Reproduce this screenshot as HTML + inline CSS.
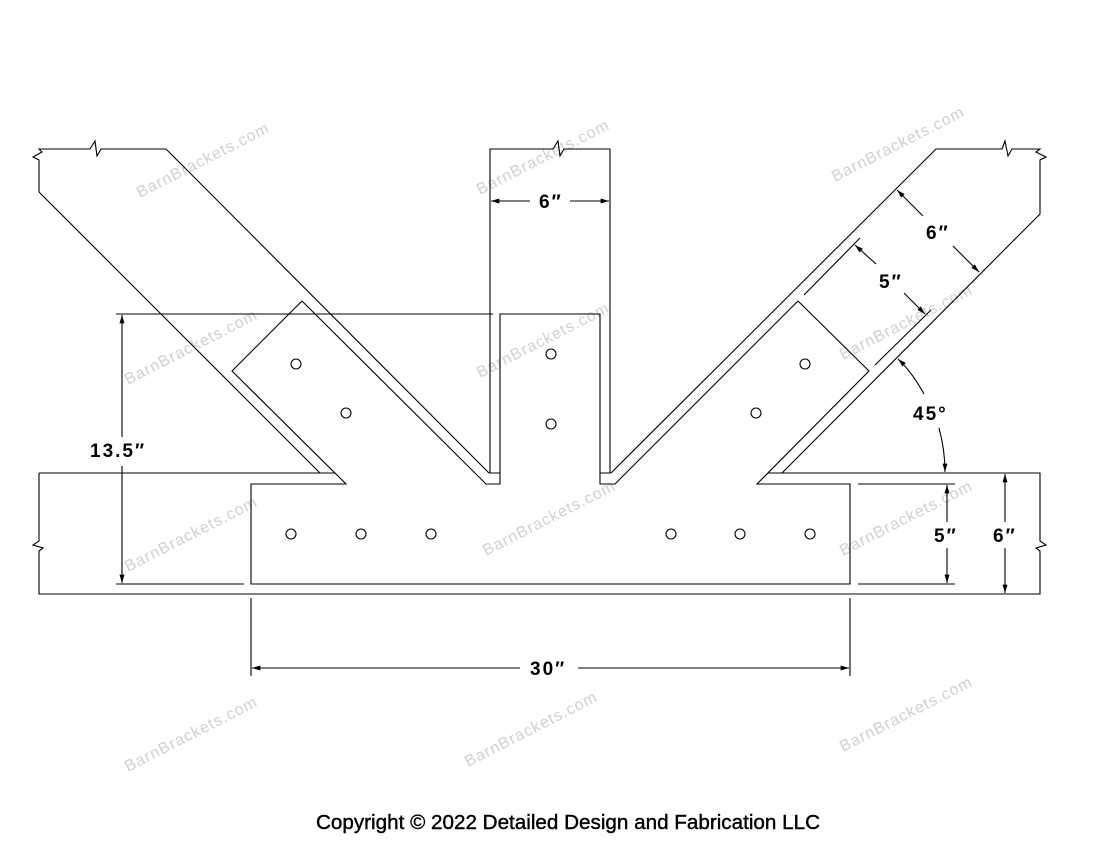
<!DOCTYPE html>
<html><head><meta charset="utf-8"><style>
html,body{margin:0;padding:0;background:#fff;}
svg{display:block;}
.t{stroke:#000;stroke-width:1.1;fill:none;}
.d{font-family:"Liberation Sans",sans-serif;font-weight:bold;font-size:19px;fill:#000;letter-spacing:2px;}
.w{font-family:"Liberation Sans",sans-serif;font-size:16px;fill:#d0d0d0;letter-spacing:1px;}
</style></head><body>
<svg width="1100" height="850" viewBox="0 0 1100 850" xmlns="http://www.w3.org/2000/svg">
<defs><marker id="a" viewBox="0 0 10 6" refX="10" refY="3" markerWidth="10" markerHeight="5" orient="auto-start-reverse" markerUnits="userSpaceOnUse"><path d="M0,0 L10,3 L0,6 z" fill="#000"/></marker></defs>
<g>
<text class="w" transform="translate(140,198) rotate(-27)">BarnBrackets.com</text>
<text class="w" transform="translate(480,195) rotate(-27)">BarnBrackets.com</text>
<text class="w" transform="translate(835,182) rotate(-27)">BarnBrackets.com</text>
<text class="w" transform="translate(128,385) rotate(-27)">BarnBrackets.com</text>
<text class="w" transform="translate(480,378) rotate(-27)">BarnBrackets.com</text>
<text class="w" transform="translate(843,360) rotate(-27)">BarnBrackets.com</text>
<text class="w" transform="translate(128,572) rotate(-27)">BarnBrackets.com</text>
<text class="w" transform="translate(486,556) rotate(-27)">BarnBrackets.com</text>
<text class="w" transform="translate(843,556) rotate(-27)">BarnBrackets.com</text>
<text class="w" transform="translate(128,772) rotate(-27)">BarnBrackets.com</text>
<text class="w" transform="translate(468,767) rotate(-27)">BarnBrackets.com</text>
<text class="w" transform="translate(843,752) rotate(-27)">BarnBrackets.com</text>
</g>
<path class="t" d="M39,192 L39,160 L33,157 L42,152 L39,149 L90,149 L95,141 L97,156 L101,149 L166,149 L489,473"/>
<path class="t" d="M39,192 L320,473"/>
<path class="t" d="M302,301 L232,371 L346,484 L251,484 L251,584 L850,584 L850,484 L757,484 L869,371 L798,301"/>
<path class="t" d="M302,301 L486,484 L500,484 L500,314 L600,314 L600,484 L615,484 L798,301"/>
<path class="t" d="M490,473 L490,149 L553,149 L558,141 L560,156 L564,149 L610,149 L610,473"/>
<path class="t" d="M489,473 L500,473 M600,473 L611,473"/>
<path class="t" d="M611,473 L936,149 L1002,149 L1005,141 L1008,156 L1012,149 L1040,149 L1036,152 L1046,157 L1040,160 L1040,214 L782,473"/>
<path class="t" d="M39,473 L335,473 M768,473 L1040,473 L1040,541 L1046,545 L1036,548 L1040,551 L1040,594 L39,594 L39,551 L43,548 L33,545 L39,541 L39,473"/>
<path class="t" d="M116,314 L493,314 M116,584 L244,584"/>
<line class="t" x1="122" y1="437" x2="122" y2="315" marker-end="url(#a)"/>
<line class="t" x1="122" y1="466" x2="122" y2="583" marker-end="url(#a)"/>
<text class="d" x="90" y="457">13.5″</text>
<line class="t" x1="530" y1="201" x2="491" y2="201" marker-end="url(#a)"/>
<line class="t" x1="570" y1="201" x2="609" y2="201" marker-end="url(#a)"/>
<text class="d" x="539" y="208">6″</text>
<path class="t" d="M804,295 L860,238 M875,365 L931,310"/>
<line class="t" x1="876" y1="264" x2="855" y2="245" marker-end="url(#a)"/>
<line class="t" x1="904" y1="293" x2="925" y2="314" marker-end="url(#a)"/>
<text class="d" x="879" y="288">5″</text>
<line class="t" x1="923" y1="216" x2="897" y2="190" marker-end="url(#a)"/>
<line class="t" x1="953" y1="246" x2="979" y2="272" marker-end="url(#a)"/>
<text class="d" x="926" y="239">6″</text>
<path class="t" d="M924,394 Q912,372 898,359" marker-end="url(#a)"/>
<path class="t" d="M939,428 Q945,450 945,472" marker-end="url(#a)"/>
<text class="d" x="913" y="420">45°</text>
<path class="t" d="M858,484 L955,484 M858,584 L955,584"/>
<line class="t" x1="947" y1="522" x2="947" y2="485" marker-end="url(#a)"/>
<line class="t" x1="947" y1="548" x2="947" y2="583" marker-end="url(#a)"/>
<text class="d" x="934" y="542">5″</text>
<line class="t" x1="1005" y1="522" x2="1005" y2="474" marker-end="url(#a)"/>
<line class="t" x1="1005" y1="548" x2="1005" y2="593" marker-end="url(#a)"/>
<text class="d" x="993" y="542">6″</text>
<path class="t" d="M251,598 L251,676 M850,598 L850,676"/>
<line class="t" x1="520" y1="668" x2="252" y2="668" marker-end="url(#a)"/>
<line class="t" x1="578" y1="668" x2="849" y2="668" marker-end="url(#a)"/>
<text class="d" x="530" y="675">30″</text>
<g class="t">
<circle cx="296" cy="364" r="5"/><circle cx="346" cy="413" r="5"/>
<circle cx="291" cy="534" r="5"/><circle cx="361" cy="534" r="5"/><circle cx="431" cy="534" r="5"/>
<circle cx="551" cy="354" r="5"/><circle cx="551" cy="424" r="5"/>
<circle cx="805" cy="364" r="5"/><circle cx="756" cy="413" r="5"/>
<circle cx="671" cy="534" r="5"/><circle cx="740" cy="534" r="5"/><circle cx="810" cy="534" r="5"/>
</g>
<text x="316" y="829" textLength="504" lengthAdjust="spacingAndGlyphs" style="font-family:'Liberation Sans',sans-serif;font-size:20px;fill:#000;stroke:#000;stroke-width:0.4;">Copyright © 2022 Detailed Design and Fabrication LLC</text>
</svg>
</body></html>
